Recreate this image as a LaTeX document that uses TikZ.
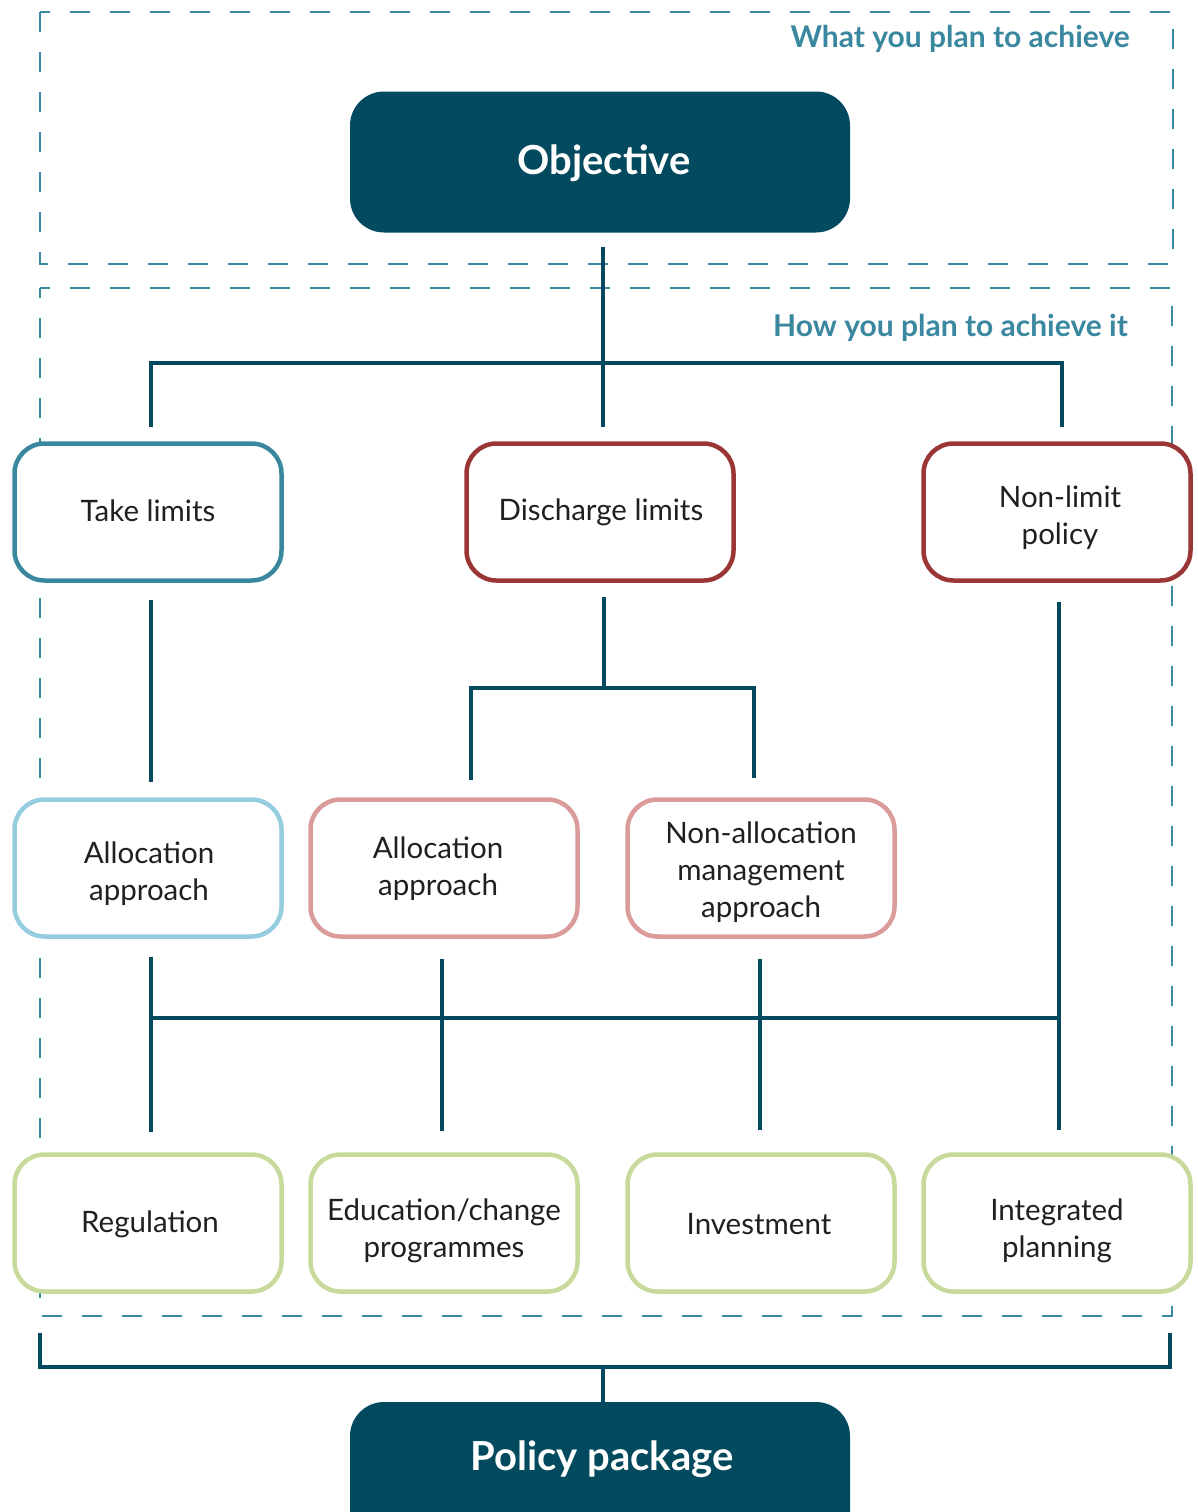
\documentclass[tikz,border=0pt]{standalone}
\usepackage{fontspec}
\setmainfont{Lato}
\definecolor{dteal}{HTML}{034A5F}
\definecolor{mteal}{HTML}{3A87A0}
\definecolor{dred}{HTML}{9B3636}
\definecolor{lblue}{HTML}{95CDDF}
\definecolor{lpink}{HTML}{DC9B9B}
\definecolor{lgreen}{HTML}{C8D99C}
\definecolor{txt}{HTML}{231F20}
\begin{document}
\begin{tikzpicture}[x=1pt,y=-1pt,
  box/.style={draw, line width=4.5pt, rounded corners=30pt, minimum width=267pt, minimum height=137pt,
     inner sep=0pt, fill=white},
  lbl/.style={align=center, text=txt, font=\fontsize{29.5}{37}\selectfont, inner sep=0pt},
  bigbox/.style={fill=dteal, rounded corners=34pt, minimum width=500pt, minimum height=141pt, inner sep=0pt},
  biglbl/.style={text=white, font=\fontsize{40}{46}\selectfont\bfseries, inner sep=0pt},
  conn/.style={draw=dteal, line width=4.5pt},
  dashbox/.style={draw=mteal, line width=2.8pt, dash pattern=on 20pt off 20pt},
  title/.style={text=mteal, font=\fontsize{30}{34}\selectfont\bfseries, anchor=east, inner sep=0pt}
]
\useasboundingbox (0,0) rectangle (1197,1512);
\begin{scope}
\clip (0,0) rectangle (1197,1512);
% dashed regions
\draw[dashbox, dash phase=10pt] (40,12) -- (1173,12) -- (1173,264) -- (40,264) -- cycle;
\draw[dashbox, dash phase=10pt] (40,288) -- (1172,288) -- (1172,1316) -- (40,1316) -- cycle;
\node[title] (t1) at (1130,39) {What you plan to achieve};
\node[title] (t2) at (1128,328) {How you plan to achieve it};

% top and bottom dark boxes
\node[bigbox] (obj) at (600,162) {};
\node[biglbl] (objt) at (604,163) {Objective};
\node[bigbox, minimum height=160pt] (pol) at (600,1482) {};
\node[biglbl] (polt) at (602,1459) {Policy package};

% row 1
\node[box, draw=mteal] (take) at (148,512) {};
\node[lbl] (taket) at (148,511) {Take limits};
\node[box, draw=dred] (dis) at (600,512) {};
\node[lbl] (dist) at (601,512) {Discharge limits};
\node[box, draw=dred] (non) at (1057,512) {};
\node[lbl] (nont) at (1060,518) {Non-limit\\policy};
% row 2
\node[box, draw=lblue] (alla) at (148,868) {};
\node[lbl] (allat) at (149,874) {Allocation\\approach};
\node[box, draw=lpink] (allb) at (444,868) {};
\node[lbl] (allbt) at (438,869) {Allocation\\approach};
\node[box, draw=lpink] (nona) at (761,868) {};
\node[lbl] (nonat) at (761,872) {Non-allocation\\management\\approach};
% row 3
\node[box, draw=lgreen] (reg) at (148,1223) {};
\node[lbl] (regt) at (150,1224) {Regulation};
\node[box, draw=lgreen] (edu) at (444,1223) {};
\node[lbl] (edut) at (444,1231) {Education/change\\programmes};
\node[box, draw=lgreen] (inv) at (761,1223) {};
\node[lbl] (invt) at (759,1224) {Investment};
\node[box, draw=lgreen] (int) at (1057,1223) {};
\node[lbl] (intt) at (1057,1231) {Integrated\\planning};

% connectors: objective to row 1
\draw[conn] ([yshift=-14pt]obj.south -| 603,0) -- ([yshift=14pt]dis.north -| 603,0);
\draw[conn] ([yshift=14pt]take.north -| 151,0) -- (151,363) -- (1062,363) -- ([yshift=14pt]non.north -| 1062,0);
% take limits -> allocation
\draw[conn] ([yshift=-17pt]take.south -| 151,0) -- ([yshift=15pt]alla.north -| 151,0);
% discharge -> two approaches
\draw[conn] ([yshift=-14pt]dis.south -| 604,0) -- (604,688);
\draw[conn] ([yshift=17pt]allb.north -| 471,0) -- (471,688) -- (754,688) -- ([yshift=19pt]nona.north -| 754,0);
% non-limit down
\draw[conn] ([yshift=-19pt]non.south -| 1059,0) -- ([yshift=22pt]int.north -| 1059,0);
% row 2 -> row 3
\draw[conn] (151,1018) -- (1059,1018);
\draw[conn] ([yshift=-18pt]alla.south -| 151,0) -- ([yshift=20pt]reg.north -| 151,0);
\draw[conn] ([yshift=-20pt]allb.south -| 442,0) -- ([yshift=21pt]edu.north -| 442,0);
\draw[conn] ([yshift=-20pt]nona.south -| 760,0) -- ([yshift=22pt]inv.north -| 760,0);
% bottom bracket
\draw[conn] (40,1333) -- (40,1367) -- (1170,1367) -- (1170,1333);
\draw[conn] (603,1367) -- ([yshift=-1pt]pol.north -| 603,0);
\end{scope}
\end{tikzpicture}
\end{document}
